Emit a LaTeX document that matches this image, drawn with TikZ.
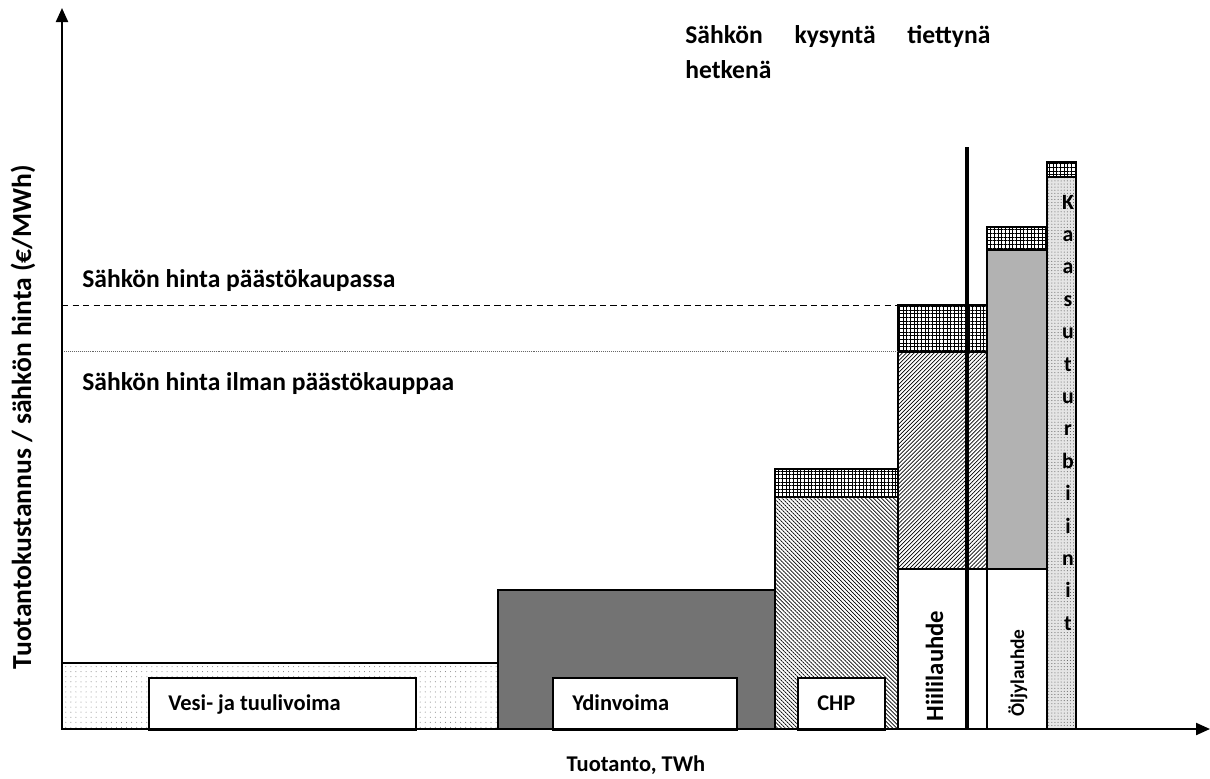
\documentclass[tikz,border=0pt]{standalone}
\usepackage{fontspec}
\setmainfont{Carlito}
\usetikzlibrary{patterns.meta,arrows.meta}
\begin{document}
\begin{tikzpicture}[x=0.025cm,y=-0.025cm,
  lbl/.style={font=\fontsize{16}{24}\selectfont\bfseries, inner sep=0pt},
  biglbl/.style={lbl, font=\fontsize{18.2}{24.8}\selectfont\bfseries},
  blk/.style={draw=black, line width=0.9pt},
  hatchSE/.style={blk, pattern={Lines[angle=-45,distance=2pt,line width=0.5pt]}, pattern color=black},
  hatchNE/.style={blk, pattern={Lines[angle=45,distance=2pt,line width=0.5pt]}, pattern color=black},
  cross/.style={blk, pattern={Hatch[angle=0,distance=2.6pt,line width=0.5pt]}, pattern color=black},
  whitebox/.style={draw=black, line width=1.1pt, fill=white},
  axis/.style={line width=1.5pt, -{Triangle[length=0.35cm,width=0.3cm]}}
]
\useasboundingbox (0,0) rectangle (1210,778);
\fill[white] (0,0) rectangle (1210,778);

% Vesi- ja tuulivoima
\path[preaction={fill=white}, pattern={Dots[distance=3.6pt,radius=0.35pt]}, pattern color=gray!90!black] (62,663) rectangle (498,729);
\draw[blk] (62,663) rectangle (498,729);
% Ydinvoima
\draw[blk, fill=black!55] (498,590) rectangle (775,729);
% CHP
\draw[hatchSE] (775,497) rectangle (898,729);
\draw[cross] (775,469) rectangle (898,497);
% Hiililauhde
\draw[blk, fill=white] (898,569) rectangle (987,729);
\draw[hatchNE] (898,352) rectangle (987,569);
\draw[cross] (898,305) rectangle (987,352);
% Oljylauhde
\draw[blk, fill=white] (987,569) rectangle (1047,729);
\draw[blk, fill=black!30] (987,250) rectangle (1047,569);
\draw[cross] (987,227) rectangle (1047,250);
% Kaasuturbiinit
\path[preaction={fill=black!10}, pattern={Dots[distance=2.2pt,radius=0.35pt]}, pattern color=black!70] (1047,177) rectangle (1076,729);
\draw[blk] (1047,177) rectangle (1076,729);
\draw[cross] (1047,162) rectangle (1076,177);

% inner white label boxes
\node[whitebox, minimum width=267*0.025cm, minimum height=52*0.025cm, anchor=north west] (bv) at (148,677) {};
\node[whitebox, minimum width=184*0.025cm, minimum height=52*0.025cm, anchor=north west] (by) at (552,677) {};
\node[whitebox, minimum width=87*0.025cm, minimum height=52*0.025cm, anchor=north west] (bc) at (797,677) {};

\node[lbl, anchor=base west] (tv) at (168,710) {Vesi- ja tuulivoima};
\node[lbl, anchor=base west] (ty) at (572,710) {Ydinvoima};
\node[lbl, anchor=base west] (tc) at (817,710) {CHP};
\node[lbl, font=\fontsize{17.6}{24}\selectfont\bfseries, rotate=90, anchor=base] (th) at (943,666) {Hiililauhde};
\node[lbl, font=\fontsize{13.8}{20}\selectfont\bfseries, rotate=90, anchor=base] (to) at (1024,673) {Öljylauhde};
\foreach \c [count=\i from 0] in {K,a,a,s,u,t,u,r,b,i,i,n,i,t}{
  \node[lbl, font=\fontsize{15.5}{20}\selectfont\bfseries, anchor=base] (k\i) at (1068,209+32.4*\i) {\c};
}

% price lines
\coordinate (d0) at (62,305);
\coordinate (d1) at (898,305);
\coordinate (p0) at (62,351);
\coordinate (p1) at (898,351);
\draw[line width=0.7pt, dash pattern=on 4.5pt off 3pt] (d0) -- (d1);
\draw[line width=0.5pt, gray!80!black, dash pattern=on 0.6pt off 0.8pt] (p0) -- (p1);
\node[biglbl, anchor=base west] (tp1) at (82,287) {Sähkön hinta päästökaupassa};
\node[biglbl, anchor=base west] (tp2) at (82,390) {Sähkön hinta ilman päästökauppaa};

% demand
\coordinate (q0) at (967,147);
\coordinate (q1) at (967,729);
\draw[line width=3pt] (q0) -- (q1);
\node[biglbl, align=left, anchor=base west] (tq) at (685,78) {\makebox[7.625cm][s]{Sähkön kysyntä tiettynä}\\hetkenä};

% axes
\coordinate (o) at (62,729);
\coordinate (ya) at (62,8);
\coordinate (xa) at (1210,729);
\draw[axis] (o) -- (ya);
\draw[axis] (o) -- (xa);
\node[lbl, anchor=base] (xl) at (636,771) {Tuotanto, TWh};
\node[lbl, font=\fontsize{19.6}{24}\selectfont\bfseries, rotate=90, anchor=base] (yl) at (31,417) {Tuotantokustannus / sähkön hinta (€/MWh)};
\end{tikzpicture}
\end{document}
